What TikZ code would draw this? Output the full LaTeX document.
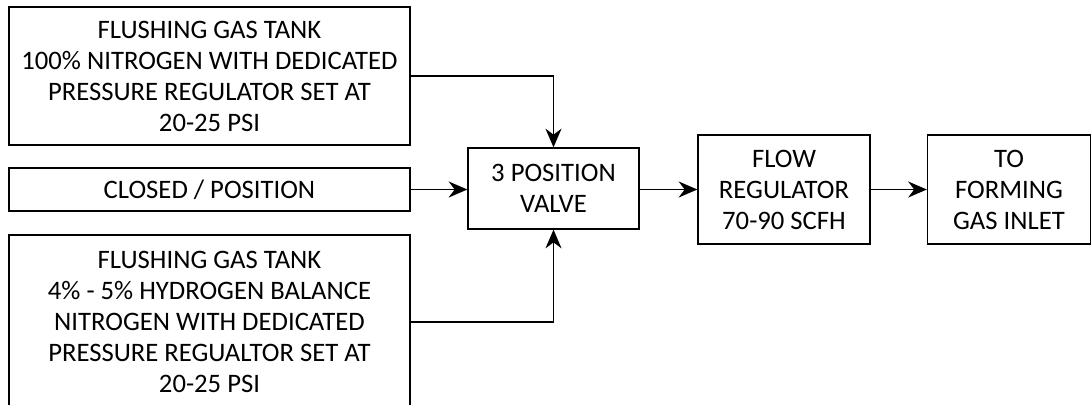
\documentclass[tikz,border=0pt]{standalone}
\usepackage{fontspec}
\setmainfont{Carlito}
\usetikzlibrary{arrows.meta}
\tikzset{
  blockbox/.style={draw, line width=1pt, align=center, inner sep=0pt,
    font=\fontsize{20}{23.25}\selectfont},
  feed/.style={-{Stealth[length=14pt,width=12pt,inset=4.5pt]}, line width=1.4pt}
}
\begin{document}
\begin{tikzpicture}[x=0.75pt,y=-0.75pt]
      \useasboundingbox (0,0) rectangle (1091,404);
      \node[blockbox, minimum width=300.75pt, minimum height=103.5pt] (tankA) at (209.5, 76)
        {FLUSHING GAS TANK\\100\% NITROGEN WITH DEDICATED\\PRESSURE REGULATOR SET AT\\20-25 PSI};
      \node[blockbox, minimum width=300.75pt, minimum height=32.25pt] (closed) at (209.5, 189.5)
        {CLOSED / POSITION};
      \node[blockbox, minimum width=300.75pt, minimum height=130.5pt] (tankB) at (209.5, 322)
        {FLUSHING GAS TANK\\4\% - 5\% HYDROGEN BALANCE\\NITROGEN WITH DEDICATED\\PRESSURE REGUALTOR SET AT\\20-25 PSI};
      \node[blockbox, minimum width=128.25pt, minimum height=60.75pt] (valve) at (553.5, 188.5)
        {3 POSITION\\VALVE};
      \node[blockbox, minimum width=129pt, minimum height=81.75pt] (flow) at (784, 189.5)
        {FLOW\\REGULATOR\\70-90 SCFH};
      \node[blockbox, minimum width=122.25pt, minimum height=81.75pt] (inlet) at (1009, 189.5)
        {TO\\FORMING\\GAS INLET};
      \draw[feed] (tankA.east) -| (valve.north);
      \draw[feed] (closed.east) -- (closed.east -| valve.west);
      \draw[feed] (tankB.east) -| (valve.south);
      \draw[feed] (valve.east |- flow.west) -- (flow.west);
      \draw[feed] (flow.east) -- (inlet.west);
    \end{tikzpicture}
\end{document}
